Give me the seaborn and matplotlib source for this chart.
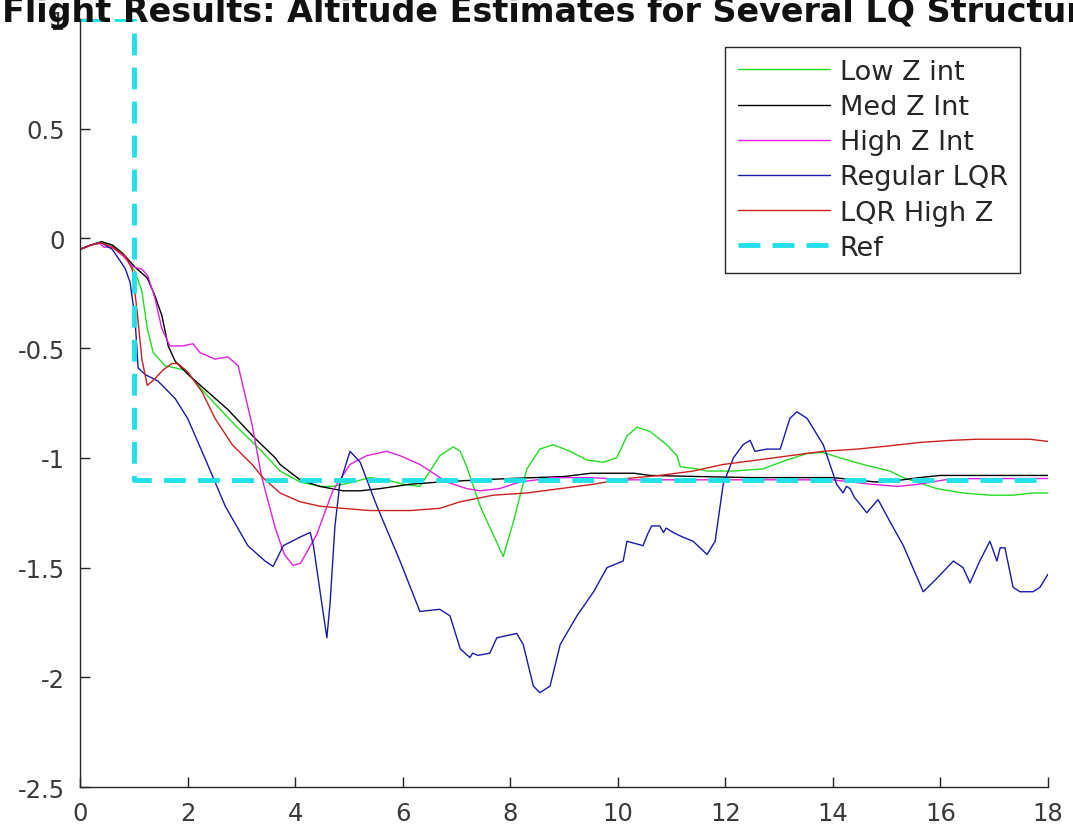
import matplotlib
matplotlib.use("Agg")
import matplotlib.pyplot as plt
import seaborn as sns
import pandas as pd

# Altitude estimates (time in s, altitude in m)
low_x = [0, 0.2, 0.4, 0.6, 0.8, 1.02, 1.15, 1.25, 1.36, 1.58, 1.77, 1.95, 2.38, 2.88, 3.38, 3.72,
         4.09, 4.46, 4.7, 5.08, 5.39, 5.7, 6.01, 6.32, 6.51, 6.69, 6.94, 7.07, 7.19, 7.44, 7.87,
         8.06, 8.31, 8.55, 8.8, 9.11, 9.43, 9.73, 9.98, 10.17, 10.36, 10.6, 10.91, 11.1, 11.16,
         11.47, 11.66, 12.15, 12.7, 13.14, 13.52, 13.82, 14.13, 14.56, 15.06, 15.31, 15.93,
         16.42, 16.92, 17.35, 17.72, 18.0]
low_y = [-0.05, -0.03, -0.015, -0.03, -0.07, -0.15, -0.24, -0.41, -0.52, -0.58, -0.59, -0.6,
         -0.72, -0.85, -0.97, -1.06, -1.11, -1.13, -1.13, -1.11, -1.09, -1.1, -1.12, -1.13,
         -1.06, -0.99, -0.95, -0.97, -1.04, -1.22, -1.45, -1.29, -1.05, -0.96, -0.94, -0.97,
         -1.01, -1.02, -1.0, -0.9, -0.86, -0.88, -0.94, -0.99, -1.04, -1.05, -1.06, -1.06,
         -1.05, -1.01, -0.98, -0.975, -1.0, -1.03, -1.06, -1.09, -1.14, -1.16, -1.17, -1.17,
         -1.16, -1.16]

med_x = [0, 0.2, 0.4, 0.6, 0.8, 1.02, 1.25, 1.39, 1.52, 1.64, 1.77, 2.01, 2.38, 2.75, 3.25,
         3.63, 3.72, 4.09, 4.46, 4.89, 5.21, 5.58, 6.14, 6.69, 7.44, 8.0, 9.0, 9.5, 10.3, 10.6,
         11.5, 12.5, 14.0, 14.8, 15.3, 15.6, 16.0, 18.0]
med_y = [-0.05, -0.03, -0.015, -0.03, -0.07, -0.13, -0.18, -0.26, -0.35, -0.49, -0.56, -0.62,
         -0.7, -0.78, -0.91, -1.0, -1.03, -1.1, -1.13, -1.15, -1.15, -1.14, -1.12, -1.11, -1.1,
         -1.094, -1.085, -1.07, -1.07, -1.08, -1.085, -1.09, -1.09, -1.11, -1.1, -1.09, -1.08,
         -1.08]

high_x = [0, 0.2, 0.35, 0.45, 0.6, 0.8, 0.99, 1.15, 1.26, 1.39, 1.52, 1.67, 1.9, 2.1, 2.23,
          2.51, 2.75, 2.94, 3.2, 3.38, 3.63, 3.8, 3.96, 4.1, 4.4, 4.7, 5.02, 5.33, 5.7, 5.95,
          6.32, 6.82, 7.19, 7.44, 7.8, 8.18, 8.8, 9.5, 10.2, 11.0, 12.0, 13.0, 14.0, 14.7, 15.2,
          15.6, 16.2, 18.0]
high_y = [-0.05, -0.03, -0.02, -0.04, -0.04, -0.08, -0.13, -0.14, -0.17, -0.27, -0.41, -0.49,
          -0.49, -0.48, -0.52, -0.55, -0.54, -0.58, -0.85, -1.09, -1.32, -1.44, -1.49, -1.48,
          -1.35, -1.15, -1.03, -0.99, -0.97, -0.99, -1.03, -1.11, -1.14, -1.15, -1.14, -1.11,
          -1.09, -1.09, -1.1, -1.1, -1.1, -1.1, -1.1, -1.12, -1.13, -1.12, -1.095, -1.094]

lqr_x = [0, 0.2, 0.4, 0.6, 0.84, 0.93, 1.02, 1.08, 1.21, 1.45, 1.77, 2.0, 2.32, 2.7, 3.12,
         3.44, 3.59, 3.78, 4.1, 4.28, 4.34, 4.47, 4.59, 4.65, 4.74, 4.83, 5.02, 5.21, 5.52,
         5.95, 6.32, 6.69, 6.88, 7.07, 7.25, 7.3, 7.4, 7.62, 7.75, 8.12, 8.24, 8.43, 8.55, 8.74,
         8.93, 9.24, 9.55, 9.8, 10.1, 10.17, 10.47, 10.55, 10.63, 10.78, 10.85, 10.9, 11.03,
         11.2, 11.4, 11.66, 11.81, 11.96, 12.15, 12.33, 12.46, 12.55, 12.77, 13.02, 13.2, 13.33,
         13.52, 13.82, 14.07, 14.19, 14.25, 14.32, 14.4, 14.5, 14.63, 14.84, 15.06, 15.31, 15.68,
         15.93, 16.24, 16.42, 16.55, 16.73, 16.92, 17.05, 17.11, 17.2, 17.35, 17.48, 17.72,
         17.85, 18.0]
lqr_y = [-0.05, -0.03, -0.02, -0.05, -0.137, -0.2, -0.36, -0.59, -0.62, -0.65, -0.73, -0.82,
         -1.0, -1.22, -1.4, -1.47, -1.495, -1.4, -1.36, -1.34, -1.4, -1.62, -1.82, -1.66, -1.31,
         -1.12, -0.97, -1.02, -1.22, -1.47, -1.7, -1.69, -1.72, -1.87, -1.91, -1.89, -1.9, -1.89,
         -1.82, -1.8, -1.85, -2.04, -2.07, -2.04, -1.85, -1.72, -1.61, -1.5, -1.47, -1.38, -1.4,
         -1.35, -1.31, -1.31, -1.34, -1.32, -1.34, -1.36, -1.38, -1.44, -1.38, -1.12, -1.0,
         -0.94, -0.92, -0.97, -0.96, -0.96, -0.82, -0.79, -0.82, -0.94, -1.12, -1.16, -1.13,
         -1.14, -1.18, -1.21, -1.25, -1.19, -1.29, -1.4, -1.61, -1.55, -1.47, -1.5, -1.57, -1.47,
         -1.38, -1.47, -1.41, -1.41, -1.59, -1.61, -1.61, -1.59, -1.53]

lqrz_x = [0, 0.2, 0.4, 0.6, 0.84, 0.97, 1.06, 1.15, 1.25, 1.39, 1.54, 1.71, 1.82, 2.01, 2.27,
          2.51, 2.83, 3.2, 3.4, 3.72, 4.09, 4.46, 4.89, 5.39, 6.14, 6.69, 7.07, 7.68, 8.31, 8.93,
          9.55, 10.17, 10.78, 11.4, 11.96, 12.59, 13.2, 13.82, 14.45, 15.06, 15.6, 16.2, 16.68,
          17.66, 18.0]
lqrz_y = [-0.05, -0.03, -0.02, -0.04, -0.08, -0.14, -0.33, -0.55, -0.67, -0.64, -0.6, -0.57,
          -0.57, -0.61, -0.7, -0.82, -0.94, -1.03, -1.09, -1.16, -1.2, -1.22, -1.23, -1.24,
          -1.24, -1.23, -1.2, -1.17, -1.16, -1.14, -1.12, -1.094, -1.08, -1.06, -1.03, -1.01,
          -0.99, -0.97, -0.96, -0.945, -0.93, -0.92, -0.915, -0.915, -0.925]

ref_x = [0, 1, 1, 18]
ref_y = [1, 1, -1.1, -1.1]

x_ticks = [0, 2, 4, 6, 8, 10, 12, 14, 16, 18]
y_ticks = [-2.5, -2, -1.5, -1, -0.5, 0, 0.5, 1]
y_labels = ["-2.5", "-2", "-1.5", "-1", "-0.5", "0", "0.5", "1"]

series = [
    ("Low Z int", low_x, low_y, "#22dd22"),
    ("Med Z Int", med_x, med_y, "#000000"),
    ("High Z Int", high_x, high_y, "#e020e0"),
    ("Regular LQR", lqr_x, lqr_y, "#1a1aa8"),
    ("LQR High Z", lqrz_x, lqrz_y, "#cc1f1f"),
]

sns.set_style("ticks")
plt.rcParams["font.family"] = ["DejaVu Sans"]

fig = plt.figure(figsize=(10.73, 8.37), dpi=100)
ax = fig.add_axes([0.0746, 0.0585, 0.9021, 0.9176])

for name, xs, ys, col in series:
    df = pd.DataFrame({"t": xs, "z": ys})
    sns.lineplot(data=df, x="t", y="z", color=col, label=name, sort=False,
                 estimator=None, linewidth=1.0, ax=ax)

ref_df = pd.DataFrame({"t": ref_x, "z": ref_y})
sns.lineplot(data=ref_df, x="t", y="z", color="#22e0e8", label="Ref", sort=False,
             estimator=None, linewidth=3.5, linestyle=(0, (4.5, 2.5)), ax=ax)

ax.set_xlim(0, 18)
ax.set_ylim(-2.5, 1)
ax.set_xticks(x_ticks)
ax.set_yticks(y_ticks)
ax.set_yticklabels(y_labels)
ax.set_xlabel("")
ax.set_ylabel("")
sns.despine(ax=ax)
for s in ["left", "bottom"]:
    ax.spines[s].set_color("#262626")
    ax.spines[s].set_linewidth(1.0)
ax.tick_params(direction="in", length=7, width=1.0, color="#262626",
               labelsize=17.5, labelcolor="#3a3a3a")
ax.tick_params(axis="y", pad=11)
ax.tick_params(axis="x", pad=10)

# title is wider than the figure and sits on the axes top, clipped like the original
ax.set_title("Flight Results: Altitude Estimates for Several LQ Structures",
             fontsize=24, fontweight="bold", color="#111111", y=0.998, pad=0)

leg = ax.legend(loc="upper right", bbox_to_anchor=(0.971, 0.964), borderaxespad=0,
                fontsize=19.5, handlelength=3.4, handletextpad=0.37, labelspacing=0.34,
                borderpad=0.45, frameon=True, fancybox=False, framealpha=1)
leg.get_frame().set_edgecolor("#262626")
leg.get_frame().set_linewidth(1.0)
for t in leg.get_texts():
    t.set_color("#262626")

fig.savefig("out.png", dpi=100)
